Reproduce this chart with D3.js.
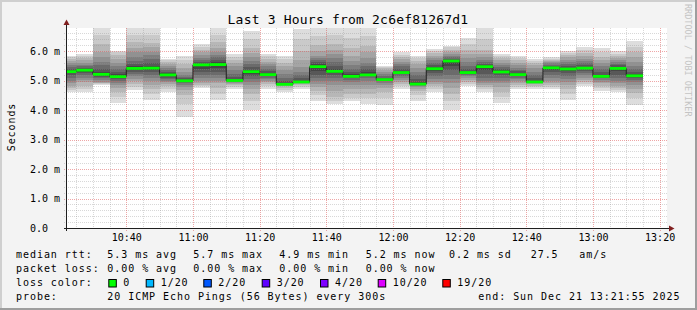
<!DOCTYPE html>
<html><head><meta charset="utf-8">
<script src="https://cdn.jsdelivr.net/npm/d3@7"></script>
<style>
html,body{margin:0;padding:0;background:#f3f3f3;}
svg{display:block;}
text{font-family:"DejaVu Sans Mono",monospace;fill:#000;}
</style></head><body>
<svg id="c" width="697" height="310"></svg>
<script>
const title = "Last 3 Hours from 2c6ef81267d1";
const startTime = "10:21:55", endTime = "13:21:55";
const yMax = 6.78;
const binEnds = ["10:25","10:30","10:35","10:40","10:45","10:50","10:55","11:00","11:05","11:10","11:15","11:20","11:25","11:30","11:35","11:40","11:45","11:50","11:55","12:00","12:05","12:10","12:15","12:20","12:25","12:30","12:35","12:40","12:45","12:50","12:55","13:00","13:05","13:10","13:15"];
const medians = [5.30,5.35,5.21,5.13,5.41,5.42,5.19,4.99,5.53,5.54,5.00,5.30,5.20,4.87,4.95,5.47,5.31,5.14,5.19,5.03,5.27,4.88,5.40,5.66,5.27,5.47,5.29,5.20,4.95,5.43,5.39,5.42,5.14,5.41,5.16];
const pings = [
[4.60,4.68,4.75,4.82,4.90,5.00,5.10,5.18,5.25,5.29,5.31,5.35,5.40,5.45,5.52,5.58,5.65,5.72,5.78,5.84],
[4.60,4.70,4.82,4.95,5.02,5.10,5.18,5.24,5.29,5.34,5.36,5.40,5.44,5.48,5.54,5.60,5.68,5.76,5.84,5.90],
[4.85,4.88,4.90,4.92,4.96,5.02,5.08,5.13,5.17,5.20,5.22,5.30,5.40,5.52,5.62,5.80,5.98,6.25,6.54,6.80],
[4.24,4.45,4.62,4.75,4.85,4.93,5.00,5.05,5.10,5.12,5.14,5.22,5.30,5.40,5.50,5.60,5.72,5.85,5.95,5.99],
[4.68,4.78,4.88,4.98,5.05,5.15,5.22,5.30,5.36,5.40,5.42,5.48,5.55,5.65,5.78,5.95,6.10,6.30,6.55,6.80],
[4.34,4.55,4.70,4.85,4.98,5.10,5.20,5.28,5.35,5.41,5.43,5.50,5.60,5.72,5.85,5.98,6.12,6.27,6.55,6.80],
[4.60,4.70,4.80,4.88,4.95,5.00,5.06,5.10,5.15,5.18,5.20,5.25,5.30,5.36,5.42,5.50,5.57,5.63,5.68,5.72],
[3.77,4.20,4.50,4.68,4.78,4.85,4.90,4.94,4.97,4.99,5.00,5.03,5.07,5.12,5.20,5.30,5.42,5.55,5.70,5.84],
[4.75,4.80,4.85,4.92,5.00,5.10,5.20,5.30,5.40,5.52,5.54,5.57,5.62,5.68,5.75,5.85,5.95,6.05,6.15,6.24],
[4.34,4.55,4.75,4.90,5.00,5.08,5.18,5.30,5.42,5.53,5.56,5.62,5.70,5.78,5.85,5.95,6.10,6.30,6.55,6.80],
[4.71,4.78,4.84,4.88,4.92,4.95,4.97,4.98,4.99,5.00,5.01,5.05,5.12,5.22,5.35,5.48,5.60,5.70,5.80,5.90],
[4.00,4.30,4.55,4.72,4.85,4.95,5.05,5.15,5.22,5.29,5.31,5.36,5.45,5.55,5.65,5.78,5.92,6.10,6.40,6.67],
[4.71,4.80,4.88,4.95,5.00,5.05,5.10,5.14,5.18,5.20,5.21,5.26,5.32,5.40,5.48,5.56,5.64,5.72,5.82,5.90],
[4.60,4.68,4.75,4.80,4.84,4.85,4.86,4.86,4.87,4.87,4.88,4.92,5.00,5.10,5.22,5.35,5.48,5.60,5.72,5.82],
[4.71,4.78,4.84,4.88,4.91,4.93,4.94,4.95,4.95,4.95,4.96,5.00,5.08,5.18,5.30,5.45,5.70,6.00,6.40,6.75],
[4.32,4.50,4.65,4.78,4.88,4.98,5.08,5.20,5.32,5.46,5.49,5.56,5.62,5.68,5.75,5.84,6.00,6.20,6.50,6.80],
[4.20,4.30,4.45,4.65,4.85,5.00,5.10,5.20,5.26,5.30,5.32,5.40,5.50,5.62,5.75,5.90,6.05,6.24,6.55,6.80],
[4.30,4.40,4.55,4.70,4.85,4.95,5.03,5.08,5.12,5.14,5.15,5.22,5.30,5.40,5.52,5.65,5.84,6.10,6.45,6.80],
[4.22,4.40,4.55,4.70,4.85,4.98,5.08,5.14,5.17,5.19,5.20,5.28,5.38,5.48,5.60,5.75,5.95,6.18,6.50,6.78],
[4.18,4.40,4.60,4.75,4.85,4.92,4.97,5.00,5.02,5.03,5.04,5.06,5.10,5.15,5.22,5.28,5.35,5.42,5.47,5.50],
[4.71,4.80,4.88,4.95,5.02,5.10,5.16,5.21,5.25,5.27,5.28,5.33,5.40,5.48,5.56,5.64,5.72,5.80,5.88,5.95],
[4.32,4.50,4.65,4.72,4.78,4.82,4.85,4.87,4.88,4.88,4.89,4.95,5.05,5.18,5.30,5.42,5.55,5.65,5.75,5.84],
[4.60,4.70,4.80,4.88,4.96,5.05,5.14,5.24,5.32,5.39,5.41,5.45,5.52,5.60,5.68,5.76,5.84,5.92,6.00,6.07],
[4.00,4.30,4.55,4.75,4.90,5.05,5.20,5.35,5.50,5.65,5.67,5.70,5.74,5.78,5.84,5.90,5.97,6.05,6.12,6.18],
[4.82,4.88,4.95,5.02,5.08,5.14,5.19,5.23,5.26,5.27,5.28,5.32,5.40,5.50,5.62,5.75,5.90,6.05,6.25,6.44],
[4.60,4.70,4.78,4.85,4.92,5.00,5.10,5.22,5.35,5.46,5.48,5.52,5.57,5.62,5.70,5.78,5.90,6.05,6.40,6.80],
[4.24,4.45,4.62,4.78,4.90,5.00,5.10,5.18,5.24,5.28,5.30,5.34,5.40,5.46,5.52,5.60,5.68,5.76,5.84,5.90],
[4.71,4.78,4.85,4.92,4.98,5.04,5.10,5.14,5.17,5.20,5.21,5.26,5.31,5.37,5.44,5.52,5.60,5.68,5.76,5.84],
[4.71,4.78,4.83,4.87,4.90,4.92,4.93,4.94,4.95,4.95,4.96,5.00,5.08,5.18,5.30,5.42,5.52,5.60,5.67,5.73],
[4.71,4.78,4.85,4.92,5.00,5.08,5.18,5.28,5.36,5.42,5.44,5.47,5.50,5.54,5.58,5.62,5.66,5.70,5.74,5.78],
[4.34,4.55,4.72,4.85,4.95,5.05,5.15,5.24,5.32,5.38,5.40,5.44,5.50,5.56,5.63,5.70,5.78,5.86,5.94,6.01],
[4.82,4.88,4.95,5.02,5.10,5.18,5.26,5.33,5.38,5.41,5.43,5.47,5.52,5.58,5.65,5.73,5.82,5.92,6.03,6.15],
[4.65,4.75,4.83,4.90,4.96,5.02,5.07,5.10,5.12,5.14,5.16,5.20,5.28,5.38,5.48,5.58,5.68,5.80,5.95,6.10],
[4.60,4.68,4.75,4.82,4.90,4.98,5.08,5.20,5.32,5.40,5.42,5.46,5.51,5.56,5.62,5.68,5.75,5.83,5.91,5.99],
[4.18,4.40,4.58,4.72,4.85,4.95,5.03,5.09,5.12,5.15,5.17,5.22,5.30,5.40,5.50,5.62,5.78,5.95,6.15,6.35]
];
const yTicks = [0,1,2,3,4,5,6];
const yTickLabels = ["0.0","1.0 m","2.0 m","3.0 m","4.0 m","5.0 m","6.0 m"];
const xTicks = ["10:40","11:00","11:20","11:40","12:00","12:20","12:40","13:00","13:20"];
const lossLabels = ["0","1/20","2/20","3/20","4/20","10/20","19/20"];
const lossColors = ["#00ff00","#00b8ff","#0059ff","#5e00ff","#7e00ff","#dd00ff","#ff0000"];
const rttLegend = ["5.3 ms avg","5.7 ms max","4.9 ms min","5.2 ms now","0.2 ms sd","27.5","am/s"];
const lossLegend = ["0.00 % avg","0.00 % max","0.00 % min","0.00 % now"];
const probeText = "20 ICMP Echo Pings (56 Bytes) every 300s";
const endText = "end: Sun Dec 21 13:21:55 2025";

const parseT = s => { const p = s.split(':').map(Number); return new Date(2025,11,21,p[0],p[1],p[2]||0); };
const svg = d3.select('#c');
const W = 697, H = 310;
const t0 = parseT(startTime), t1 = parseT(endTime);
const x = d3.scaleTime().domain([t0,t1]).range([66,666]);
const y = d3.scaleLinear().domain([0,yMax]).range([228,28]);
const L = 67, R = 667, T = 28, B = 228;

// background + shade
svg.append('rect').attr('width',W).attr('height',H).attr('fill','#f3f3f3');
svg.append('rect').attr('x',0).attr('y',0).attr('width',W).attr('height',2).attr('fill','#cfcfcf');
svg.append('rect').attr('x',0).attr('y',0).attr('width',2).attr('height',H).attr('fill','#cfcfcf');
svg.append('rect').attr('x',0).attr('y',H-2).attr('width',W).attr('height',2).attr('fill','#9e9e9e');
svg.append('rect').attr('x',W-2).attr('y',0).attr('width',2).attr('height',H).attr('fill','#9e9e9e');

// canvas
svg.append('rect').attr('x',L).attr('y',T).attr('width',R-L).attr('height',B-T).attr('fill','#fff');
svg.append('clipPath').attr('id','clip').append('rect').attr('x',L).attr('y',T).attr('width',R-L).attr('height',B-T);

const bins = binEnds.map((e,i) => { const te = parseT(e); return {ts:new Date(te.getTime()-300000), te, med:medians[i], p:pings[i]}; });

// smoke
const gs = svg.append('g').attr('clip-path','url(#clip)');
const half = 10;
for (let ib=1; ib<=half; ib++) {
  const c = Math.floor(190/half*(half-ib))+50;
  const col = d3.rgb(c,c,c).toString();
  gs.selectAll(null).data(bins).enter().append('rect')
    .attr('x', d => x(d.ts)).attr('width', d => x(d.te)-x(d.ts))
    .attr('y', d => y(d.p[20-ib])).attr('height', d => y(d.p[ib-1]) - y(d.p[20-ib]))
    .attr('fill', col).attr('shape-rendering','crispEdges');
}

// grid
const gg = svg.append('g');
const minorX = d3.timeMinute.every(5).range(t0,t1);
const majorX = xTicks.map(parseT);
const isMajorX = d => d.getMinutes()%20===0;
const minorY = d3.range(1, Math.floor(yMax*5)+1).map(k=>k*0.2).filter(v => Math.abs(v-Math.round(v))>1e-6);
const px = v => Math.round(v)+0.5;
gg.selectAll(null).data(minorX.filter(d=>!isMajorX(d))).enter().append('line')
  .attr('x1',d=>px(x(d))).attr('x2',d=>px(x(d))).attr('y1',T).attr('y2',B+2)
  .attr('stroke','#8f8f8f').attr('stroke-opacity',0.35).attr('stroke-dasharray','1,1');
gg.selectAll(null).data(minorY).enter().append('line')
  .attr('y1',d=>px(y(d))).attr('y2',d=>px(y(d))).attr('x1',L-3).attr('x2',R)
  .attr('stroke','#8f8f8f').attr('stroke-opacity',0.35).attr('stroke-dasharray','1,1');
gg.selectAll(null).data(majorX).enter().append('line')
  .attr('x1',d=>px(x(d))).attr('x2',d=>px(x(d))).attr('y1',T).attr('y2',B+3)
  .attr('stroke','#de4f4f').attr('stroke-opacity',0.5).attr('stroke-dasharray','1,1');
gg.selectAll(null).data(yTicks.filter(v=>v>0)).enter().append('line')
  .attr('y1',d=>px(y(d))).attr('y2',d=>px(y(d))).attr('x1',L-3).attr('x2',R)
  .attr('stroke','#de4f4f').attr('stroke-opacity',0.5).attr('stroke-dasharray','1,1');

// median: dark step line + green blocks
const stepPts = bins.map(d => [x(d.ts), y(d.med)]);
stepPts.push([x(bins[bins.length-1].te), y(bins[bins.length-1].med)]);
svg.append('path').attr('clip-path','url(#clip)')
  .attr('d', d3.line().curve(d3.curveStepAfter)(stepPts))
  .attr('fill','none').attr('stroke','#202020').attr('stroke-width',1);
svg.append('g').attr('clip-path','url(#clip)').selectAll(null).data(bins).enter().append('rect')
  .attr('x', d => x(d.ts)).attr('width', d => x(d.te)-x(d.ts))
  .attr('y', d => y(d.med)-1.4).attr('height', 2.8)
  .attr('fill', lossColors[0]);

// axes lines and arrows
svg.append('line').attr('x1',L-0.5).attr('x2',L-0.5).attr('y1',B+3).attr('y2',22).attr('stroke','#1f1f1f');
svg.append('line').attr('x1',L-3).attr('x2',670).attr('y1',B+0.5).attr('y2',B+0.5).attr('stroke','#1f1f1f');
svg.append('path').attr('d',`M${L-3.5},${25}L${L+2.5},${25}L${L-0.5},${19.5}Z`).attr('fill','#801f1f');
svg.append('path').attr('d',`M669,${B-2.5}L669,${B+3.5}L674.5,${B+0.5}Z`).attr('fill','#801f1f');

// axis labels via d3 axes
const xAxis = d3.axisBottom(x).tickValues(majorX).tickFormat(d3.timeFormat('%H:%M')).tickSize(0).tickPadding(6);
const gx = svg.append('g').attr('transform',`translate(0,${B})`).call(xAxis);
gx.select('.domain').remove();
gx.selectAll('text').attr('font-family','DejaVu Sans Mono').attr('font-size','10px').attr('fill','#000');

const gy = svg.append('g');
gy.selectAll(null).data(yTicks).enter().append('text')
  .attr('x',30).attr('y',d=>y(d)).attr('dy','0.35em')
  .attr('font-size','10px').text((d,i)=>yTickLabels[i]);

// title
svg.append('text').attr('x',348).attr('y',24).attr('text-anchor','middle')
  .attr('font-size','13px').attr('letter-spacing','0.2px').text(title);
// y label
svg.append('text').attr('transform','translate(14.5,127) rotate(-90)').attr('text-anchor','middle')
  .attr('font-size','10px').attr('letter-spacing','0.9px').text('Seconds');
// watermark
svg.append('text').attr('transform','translate(685,4) rotate(90)')
  .attr('font-size','8.5px').style('fill','#c4c4c4').text('RRDTOOL / TOBI OETIKER');

// legend
const lg = svg.append('g').attr('font-size','10px').attr('letter-spacing','0.95px');
const put = (tx,xx,yy) => lg.append('text').attr('x',xx).attr('y',yy).attr('xml:space','preserve').style('white-space','pre').text(tx);
put('median rtt:',16,258);
const rttX = [107.3,193.3,279.3,365.7,449,530.7,579.3];
rttLegend.forEach((s,i)=>put(s,rttX[i],258));
put('packet loss:',16,272);
const lossX = [107.3,193.3,279.3,365.7];
lossLegend.forEach((s,i)=>put(s,lossX[i],272));
put('loss color:',16,286);
const boxX = [108.3,145.7,203.3,261.7,320,377.7,442.3];
lossLabels.forEach((s,i)=>{
  lg.append('rect').attr('x',boxX[i]+0.5).attr('y',279.5).attr('width',7.5).attr('height',7.5)
    .attr('fill',lossColors[i]).attr('stroke','#000').attr('stroke-width',1);
  put(s, boxX[i]+15, 286);
});
put('probe:',16,300);
put(probeText,107.3,300);
put(endText,478.3,300);
</script>
</body></html>
